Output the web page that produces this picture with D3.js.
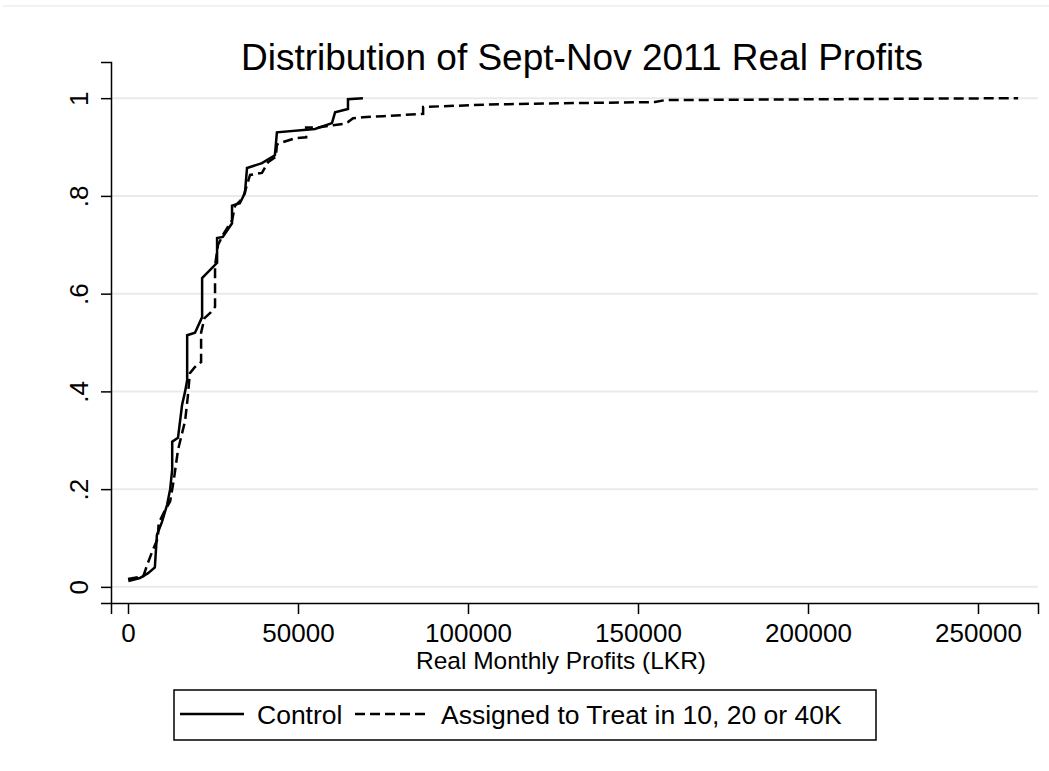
<!DOCTYPE html>
<html>
<head>
<meta charset="utf-8">
<script src="https://cdn.jsdelivr.net/npm/d3@7"></script>
<style>
body { margin: 0; background: #fff; }
text { font-family: "Liberation Sans", Arial, sans-serif; fill: #000; }
</style>
</head>
<body>
<div id="chart"></div>
<script>
// cumulative share of firms by real monthly profit
var controlProfit = [100, 3500, 5900, 7900, 8500, 10000, 11500, 12400, 13000, 13000, 14700, 15900, 16800, 17400, 17400, 19700, 21800, 21800, 26200, 26200, 27900, 30600, 30600, 32900, 34400, 35000, 39400, 43200, 43800, 55000, 60000, 60900, 64700, 64700, 69100];
var controlShare  = [0.012, 0.018, 0.028, 0.040, 0.106, 0.133, 0.168, 0.200, 0.240, 0.297, 0.305, 0.372, 0.400, 0.423, 0.515, 0.520, 0.552, 0.632, 0.663, 0.714, 0.716, 0.744, 0.780, 0.785, 0.806, 0.857, 0.867, 0.883, 0.930, 0.937, 0.949, 0.971, 0.978, 0.998, 1.000];

var treatProfit = [0, 4500, 5900, 7000, 8800, 9000, 10900, 12400, 13500, 14700, 16800, 17600, 18200, 19700, 21500, 21500, 22500, 24100, 25600, 25600, 26500, 27900, 30600, 31500, 33000, 34000, 35900, 39400, 41200, 43500, 43800, 45600, 49100, 52400, 52400, 55900, 60900, 63200, 64700, 66200, 69100, 75000, 86800, 86800, 106200, 132100, 155000, 158000, 210000, 261800];
var treatShare  = [0.016, 0.022, 0.050, 0.070, 0.100, 0.130, 0.157, 0.175, 0.220, 0.280, 0.340, 0.390, 0.437, 0.450, 0.460, 0.520, 0.550, 0.560, 0.573, 0.658, 0.700, 0.720, 0.750, 0.780, 0.790, 0.800, 0.843, 0.847, 0.869, 0.880, 0.905, 0.910, 0.918, 0.920, 0.940, 0.940, 0.945, 0.947, 0.951, 0.959, 0.961, 0.963, 0.968, 0.982, 0.987, 0.990, 0.992, 0.996, 0.998, 1.000];

var xTicks = [0, 50000, 100000, 150000, 200000, 250000];
var yTicks = [0, 0.2, 0.4, 0.6, 0.8, 1];
var yTickLabels = ["0", ".2", ".4", ".6", ".8", "1"];
var seriesNames = ["Control", "Assigned to Treat in 10, 20 or 40K"];

var W = 1049, H = 771;
var svg = d3.select("#chart").append("svg")
    .attr("width", W)
    .attr("height", H);

// faint frame line at the top
svg.append("line")
    .attr("x1", 3).attr("x2", W)
    .attr("y1", 6).attr("y2", 6)
    .attr("stroke", "#eeeeee")
    .attr("stroke-width", 1.5);

var x = d3.scaleLinear()
    .domain([-5000, 267650])
    .range([111, 1038]);

var y = d3.scaleLinear()
    .domain([-0.033, 1.074])
    .range([603, 62]);

// grid
svg.append("g")
  .selectAll("line")
  .data(yTicks)
  .enter().append("line")
    .attr("x1", 112).attr("x2", 1038)
    .attr("y1", function(d) { return y(d); })
    .attr("y2", function(d) { return y(d); })
    .attr("stroke", "#eaeaea")
    .attr("stroke-width", 2);

// y axis
var yAxis = svg.append("g")
    .attr("transform", "translate(111,0)")
    .call(d3.axisLeft(y).tickValues(yTicks).tickSize(10).tickPadding(0)
        .tickFormat(function(d, i) { return yTickLabels[i]; }));
yAxis.select(".domain").attr("stroke", "#000").attr("stroke-width", 1.5);
yAxis.selectAll(".tick line").attr("stroke", "#000").attr("stroke-width", 1.5);
yAxis.selectAll(".tick text")
    .attr("x", 0).attr("dy", 0)
    .attr("transform", "translate(-23,0) rotate(-90)")
    .attr("text-anchor", "middle")
    .style("font-size", "26px")
    .style("font-family", "Liberation Sans, Arial, sans-serif");

// x axis
var xAxis = svg.append("g")
    .attr("transform", "translate(0,603)")
    .call(d3.axisBottom(x).tickValues(xTicks).tickSize(11).tickPadding(10)
        .tickFormat(d3.format("d")));
xAxis.select(".domain").attr("stroke", "#000").attr("stroke-width", 1.5);
xAxis.selectAll(".tick line").attr("stroke", "#000").attr("stroke-width", 1.5);
xAxis.selectAll(".tick text")
    .style("font-size", "26px")
    .style("font-family", "Liberation Sans, Arial, sans-serif");

// lines
var line = d3.line()
    .x(function(d) { return x(d[0]); })
    .y(function(d) { return y(d[1]); });

var controlData = d3.zip(controlProfit, controlShare);
var treatData = d3.zip(treatProfit, treatShare);

svg.append("path")
    .datum(treatData)
    .attr("d", line)
    .attr("fill", "none")
    .attr("stroke", "#000")
    .attr("stroke-width", 2.5)
    .attr("stroke-dasharray", "10,5");

svg.append("path")
    .datum(controlData)
    .attr("d", line)
    .attr("fill", "none")
    .attr("stroke", "#000")
    .attr("stroke-width", 2.5);

// titles
svg.append("text")
    .attr("x", 582).attr("y", 70)
    .attr("text-anchor", "middle")
    .style("font-size", "37px")
    .text("Distribution of Sept-Nov 2011 Real Profits");

svg.append("text")
    .attr("x", 561).attr("y", 669)
    .attr("text-anchor", "middle")
    .style("font-size", "24.5px")
    .text("Real Monthly Profits (LKR)");

// legend
var leg = svg.append("g");
leg.append("rect")
    .attr("x", 174).attr("y", 690)
    .attr("width", 702).attr("height", 50)
    .attr("fill", "#fff")
    .attr("stroke", "#000")
    .attr("stroke-width", 1.5);
leg.append("line")
    .attr("x1", 180).attr("x2", 244)
    .attr("y1", 714).attr("y2", 714)
    .attr("stroke", "#000").attr("stroke-width", 2.5);
leg.append("text")
    .attr("x", 257).attr("y", 724)
    .style("font-size", "26.5px")
    .text(seriesNames[0]);
leg.append("line")
    .attr("x1", 355).attr("x2", 428)
    .attr("y1", 714).attr("y2", 714)
    .attr("stroke", "#000").attr("stroke-width", 2.5)
    .attr("stroke-dasharray", "10,5");
leg.append("text")
    .attr("x", 441).attr("y", 724)
    .style("font-size", "26.5px")
    .text(seriesNames[1]);
</script>
</body>
</html>
